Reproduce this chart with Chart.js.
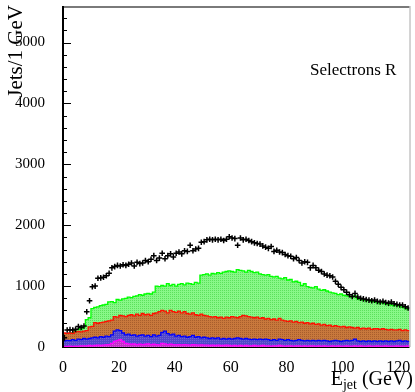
<!DOCTYPE html>
<html>
<head>
<meta charset="utf-8">
<script src="https://cdn.jsdelivr.net/npm/chart.js@4.4.1/dist/chart.umd.min.js"></script>
<style>
  html, body { margin: 0; padding: 0; background: #fff; }
  canvas { display: block; }
</style>
</head>
<body>
<canvas id="c" width="415" height="392"></canvas>
<script>
// Jet energy spectrum, 1 GeV bins from 0 to 124 GeV.
// Measured counts per bin (black markers).
const dataCounts = [
  150, 280, 285, 280, 290, 335, 320, 345, 580, 760,
  990, 1000, 1130, 1135, 1145, 1170, 1210, 1300, 1320, 1340,
  1330, 1350, 1340, 1360, 1380, 1330, 1390, 1370, 1380, 1420,
  1400, 1440, 1500, 1420, 1460, 1540, 1450, 1500, 1530, 1480,
  1540, 1560, 1530, 1580, 1570, 1670, 1580, 1610, 1620, 1720,
  1730, 1760, 1770, 1760, 1770, 1760, 1770, 1750, 1770, 1810,
  1790, 1780, 1670, 1790, 1760, 1770, 1750, 1730, 1710, 1700,
  1690, 1660, 1640, 1620, 1650, 1570, 1590, 1560, 1550, 1520,
  1500, 1490, 1450, 1470, 1420, 1380, 1400, 1390, 1300, 1340,
  1300, 1260, 1240, 1200, 1180, 1170, 1150, 1080, 1030, 980,
  940, 900, 860, 830, 880, 820, 800, 790, 780, 770,
  760, 770, 750, 740, 750, 730, 720, 740, 710, 700,
  690, 690, 660, 640
];

// Simulated contributions, each given as the running stack height.
const stackGreen = [
  150, 220, 225, 230, 280, 290, 300, 330, 450, 480,
  630, 650, 660, 680, 690, 700, 740, 745, 730, 780,
  770, 790, 800, 820, 810, 830, 840, 860, 850, 870,
  880, 870, 900, 1000, 990, 1010, 1000, 1040, 1010, 1030,
  1000, 1030, 1040, 1020, 1050, 1040, 1030, 1060, 1050, 1180,
  1190, 1200, 1180, 1210, 1200, 1220, 1210, 1230, 1240, 1250,
  1240, 1230, 1270, 1260, 1250, 1230, 1260, 1240, 1220, 1230,
  1200, 1190, 1180, 1190, 1160, 1150, 1160, 1130, 1120, 1140,
  1100, 1110, 1070, 1080, 1060, 1010, 1040, 990, 980, 970,
  990, 950, 930, 940, 920, 900, 890, 880, 860, 870,
  850, 840, 830, 820, 840, 790, 780, 770, 760, 770,
  750, 740, 730, 720, 730, 710, 700, 690, 680, 690,
  670, 650, 640, 620
];
const stackOrange = [
  230, 225, 230, 225, 250, 255, 250, 260, 270, 330,
  340, 400, 390, 400, 410, 420, 430, 440, 500, 490,
  520, 510, 500, 520, 530, 510, 540, 520, 550, 530,
  540, 520, 550, 560, 580, 600, 590, 560, 600, 580,
  570, 590, 560, 580, 550, 540, 560, 530, 520, 540,
  520, 510, 500, 490, 500, 480, 490, 470, 490, 480,
  500, 490, 480, 500, 520, 510, 500, 490, 480, 490,
  470, 480, 460, 470, 450, 460, 440, 470, 440, 430,
  420, 430, 410, 420, 400, 410, 390, 400, 380, 390,
  370, 380, 360, 370, 350, 360, 340, 350, 340, 330,
  340, 320, 330, 320, 310, 320, 300, 310, 300, 310,
  290, 300, 300, 290, 300, 290, 280, 290, 280, 280,
  290, 270, 280, 270
];
const stackBlue = [
  100, 110, 105, 120, 110, 130, 120, 140, 130, 140,
  150, 160, 150, 170, 160, 180, 170, 200, 260, 280,
  270, 230, 200, 210, 190, 200, 180, 190, 200, 180,
  190, 170, 200, 180, 190, 240, 260, 220, 200, 210,
  180, 190, 170, 180, 160, 170, 190, 160, 170, 150,
  160, 150, 140, 150, 140, 150, 130, 140, 130, 140,
  130, 140, 150, 140, 130, 140, 130, 120, 130, 120,
  130, 120, 130, 120, 110, 120, 110, 130, 120, 110,
  120, 110, 100, 110, 120, 110, 100, 110, 100, 110,
  100, 110, 100, 110, 100, 90, 100, 110, 100, 90,
  100, 110, 100, 110, 130, 100, 90, 100, 90, 100,
  90, 100, 90, 100, 90, 100, 90, 100, 90, 100,
  110, 90, 100, 90
];
const stackMagenta = [
  10, 10, 15, 10, 15, 15, 20, 20, 20, 25,
  20, 25, 30, 25, 30, 35, 40, 60, 90, 110,
  120, 90, 60, 50, 45, 50, 40, 45, 40, 45,
  50, 40, 45, 40, 35, 60, 50, 40, 45, 40,
  35, 40, 35, 40, 35, 30, 40, 35, 30, 35,
  30, 30, 25, 30, 25, 30, 25, 25, 30, 25,
  20, 25, 20, 25, 20, 25, 20, 20, 25, 20,
  20, 25, 20, 20, 15, 20, 20, 25, 20, 15,
  20, 20, 15, 20, 20, 15, 20, 15, 20, 20,
  15, 20, 15, 20, 15, 15, 20, 15, 20, 15,
  15, 20, 15, 15, 20, 15, 20, 15, 15, 20,
  15, 15, 20, 15, 15, 20, 15, 15, 15, 20,
  15, 15, 15, 20
];

const xTickValues = [0, 20, 40, 60, 80, 100, 120];
const yTickValues = [0, 1000, 2000, 3000, 4000, 5000];
const xRange = [0, 124];
const yRange = [0, 5600];

const canvas = document.getElementById('c');
const ctx = canvas.getContext('2d');

// small two-tone dither tiles for the filled areas
function dither(base, dot) {
  const t = document.createElement('canvas');
  t.width = 4; t.height = 4;
  const g = t.getContext('2d');
  g.fillStyle = base; g.fillRect(0, 0, 4, 4);
  g.fillStyle = dot;
  g.fillRect(0, 0, 1, 1); g.fillRect(2, 2, 1, 1);
  g.fillRect(2, 0, 1, 1); g.fillRect(0, 2, 1, 1);
  return ctx.createPattern(t, 'repeat');
}

// bin contents -> step outline points at the bin edges
function binEdges(arr) {
  const pts = arr.map((v, i) => ({ x: i, y: v }));
  pts.push({ x: arr.length, y: arr[arr.length - 1] });
  return pts;
}

function histo(arr, line, fillPat) {
  return {
    data: binEdges(arr),
    stepped: true,
    fill: 'origin',
    backgroundColor: fillPat,
    borderColor: line,
    borderWidth: 1.3,
    pointRadius: 0,
    borderJoinStyle: 'miter'
  };
}

const serif = 'Liberation Serif, Times New Roman, serif';

function noScalePadding(s) {
  s.paddingTop = 0; s.paddingBottom = 0; s.paddingLeft = 0; s.paddingRight = 0;
}

const decor = {
  id: 'decor',
  beforeDatasetsDraw(chart) {
    const { ctx: c, chartArea: a, scales: { x, y } } = chart;
    c.save();
    c.strokeStyle = '#000';
    c.lineWidth = 1;
    for (let v = yRange[0]; v <= yRange[1]; v += 200) {
      const py = Math.round(y.getPixelForValue(v)) + 0.5;
      const len = v % 1000 === 0 ? 8 : 4;
      c.beginPath(); c.moveTo(a.left, py); c.lineTo(a.left + len, py); c.stroke();
    }
    for (let v = xRange[0]; v <= xRange[1]; v += 5) {
      const px = Math.round(x.getPixelForValue(v)) + 0.5;
      const len = v % 20 === 0 ? 10 : 5;
      c.beginPath(); c.moveTo(px, a.bottom); c.lineTo(px, a.bottom - len); c.stroke();
    }
    c.beginPath(); c.moveTo(a.left, a.bottom + 0.5); c.lineTo(a.right, a.bottom + 0.5); c.stroke();
    c.restore();
  },
  afterDatasetsDraw(chart) {
    const { ctx: c, chartArea: a } = chart;
    c.save();
    // frame
    c.strokeStyle = '#7a7a7a';
    c.lineWidth = 2;
    c.beginPath(); c.moveTo(a.left, a.top + 1); c.lineTo(a.right, a.top + 1); c.stroke();
    c.strokeStyle = '#a8a8a8';
    c.lineWidth = 1;
    c.beginPath(); c.moveTo(a.right + 0.5, a.top); c.lineTo(a.right + 0.5, a.bottom); c.stroke();
    c.strokeStyle = '#000';
    c.lineWidth = 2;
    c.beginPath(); c.moveTo(a.left, a.top); c.lineTo(a.left, a.bottom + 1); c.stroke();
    c.restore();
  },
  afterDraw(chart) {
    const c = chart.ctx;
    c.save();
    c.fillStyle = '#000';
    c.textBaseline = 'alphabetic';
    // y-axis title, right-aligned at the top
    c.save();
    c.translate(22, 5);
    c.rotate(-Math.PI / 2);
    c.font = '21px ' + serif;
    c.textAlign = 'right';
    c.fillText('Jets/1 GeV', 0, 0);
    c.restore();
    // x-axis title with subscript
    const big = '20px ' + serif, small = '14px ' + serif;
    c.font = big; const wE = c.measureText('E').width; const wG = c.measureText(' (GeV)').width;
    c.font = small; const wj = c.measureText('jet').width;
    let x0 = 413 - (wE + wj + wG);
    c.font = big; c.fillText('E', x0, 385);
    c.font = small; c.fillText('jet', x0 + wE, 389);
    c.font = big; c.fillText(' (GeV)', x0 + wE + wj, 385);
    // sample label
    c.font = '17px ' + serif;
    c.fillText('Selectrons R', 310, 75);
    c.restore();
  }
};

new Chart(canvas, {
  type: 'line',
  data: {
    datasets: [
      {
        data: dataCounts.map((v, i) => ({ x: i + 0.5, y: v })),
        showLine: false,
        pointStyle: 'cross',
        pointRadius: 2.8,
        pointBorderWidth: 1.5,
        pointBorderColor: '#000',
        borderColor: '#000',
        backgroundColor: '#000'
      },
      histo(stackMagenta, '#ff00ff', dither('#c030c8', '#e050e0')),
      histo(stackBlue, '#0000ff', dither('#5048c8', '#7060d8')),
      histo(stackOrange, '#ff1000', dither('#c8783c', '#a85e2c')),
      histo(stackGreen, '#00ff00', dither('#88f888', '#5ce05c'))
    ]
  },
  options: {
    responsive: false,
    animation: false,
    devicePixelRatio: 1,
    layout: { padding: { top: 6, right: 2, left: 0, bottom: 0 } },
    plugins: { legend: { display: false }, tooltip: { enabled: false } },
    scales: {
      x: {
        type: 'linear',
        min: xRange[0], max: xRange[1],
        afterFit(s) { s.height = 45; noScalePadding(s); },
        afterBuildTicks(s) { s.ticks = xTickValues.map(v => ({ value: v })); },
        grid: { display: false },
        border: { display: false },
        ticks: { color: '#000', font: { family: serif, size: 16 }, padding: 3, maxRotation: 0, autoSkip: false,
                 callback: v => String(v) }
      },
      y: {
        type: 'linear',
        min: yRange[0], max: yRange[1],
        afterFit(s) { s.width = 63; noScalePadding(s); },
        afterBuildTicks(s) { s.ticks = yTickValues.map(v => ({ value: v })); },
        grid: { display: false },
        border: { display: false },
        ticks: { color: '#000', font: { family: serif, size: 15 }, padding: 10,
                 callback: v => String(v) }
      }
    }
  },
  plugins: [decor]
});
</script>
</body>
</html>
